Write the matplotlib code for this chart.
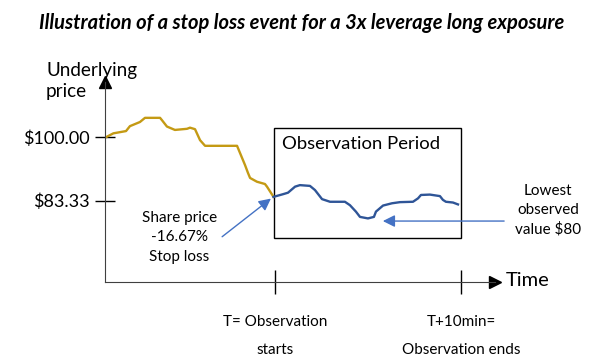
import matplotlib.pyplot as plt
from matplotlib.patches import Rectangle

plt.rcParams['font.family'] = ['Lato', 'DejaVu Sans']

# price path before the stop (minutes relative to T, price in $)
pre_t = [-9.14, -8.69, -8.01, -7.80, -7.26, -6.99, -6.18, -6.08, -5.81, -5.38,
         -4.73, -4.57, -4.30, -4.03, -3.76, -2.04, -1.88, -1.61, -1.45, -1.34,
         -0.97, -0.54, -0.43, -0.08]
pre_p = [99.95, 101.1, 101.7, 103.0, 104.1, 105.2, 105.2, 104.6, 102.9, 102.0,
         102.3, 102.6, 102.2, 99.3, 97.8, 97.8, 95.9, 92.7, 90.6, 89.3,
         88.3, 87.7, 87.0, 84.3]

# price path during the observation window
obs_t = [-0.08, 0.43, 0.70, 1.08, 1.34, 1.88, 2.15, 2.53, 2.96, 3.76,
         4.03, 4.35, 4.57, 5.00, 5.32, 5.43, 5.81, 6.29, 6.72, 7.42,
         7.69, 7.85, 8.33, 8.87, 9.03, 9.19, 9.57, 9.84]
obs_p = [84.3, 85.0, 85.4, 87.0, 87.4, 87.2, 86.1, 83.7, 83.0, 83.0,
         82.1, 80.4, 79.0, 78.6, 79.0, 80.4, 82.0, 82.6, 82.9, 83.0,
         83.9, 84.8, 84.9, 84.5, 83.5, 83.0, 82.8, 82.3]

ytick_vals = [100.0, 83.33]
ytick_labels = ['$100.00', '$83.33']
xtick_vals = [0, 10]
xtick_labels = ['T= Observation\nstarts', 'T+10min=\nObservation ends']

W, H = 612, 364
fig = plt.figure(figsize=(W / 100, H / 100), dpi=100)
# axes placed so the spines match the hand-drawn axes of the original
ax = fig.add_axes([105 / W, (H - 282.3) / H, 390 / W, 200 / H])
ax.set_xlim(-9.14, 11.83)
ax.set_ylim(61.7, 114.6)
ax.patch.set_alpha(0)

for s in ['top', 'right']:
    ax.spines[s].set_visible(False)
ax.spines['left'].set_color('#404040')
ax.spines['bottom'].set_color('#404040')

# arrow heads on the axes
ax.plot(1, 0, '>', color='black', ms=9, transform=ax.transAxes, clip_on=False)
ax.plot(0, 1, '^', color='black', ms=9, transform=ax.transAxes, clip_on=False)

ax.plot(pre_t, pre_p, color='#C49A14', lw=1.7, solid_joinstyle='round')
ax.plot(obs_t, obs_p, color='#2F5597', lw=1.7, solid_joinstyle='round')

ax.set_yticks(ytick_vals)
ax.set_yticklabels(ytick_labels)
ax.set_xticks(xtick_vals)
ax.set_xticklabels(xtick_labels)
ax.tick_params(axis='y', direction='inout', length=14, width=1, pad=4, labelsize=13)
ax.tick_params(axis='x', direction='inout', length=17, width=1, pad=15, labelsize=11)
for lbl in ax.get_xticklabels():
    lbl.set_linespacing(2.25)

# observation window box
ax.add_patch(Rectangle((-0.05, 73.3), 10.05, 29.1, fill=False, ec='black', lw=1,
                       clip_on=False))
ax.text(0.4, 98.3, 'Observation Period', fontsize=13.3, va='center', ha='left')

ax.annotate('', xy=(-0.1, 84.3), xytext=(-2.96, 73.3),
            arrowprops=dict(arrowstyle='-|>', color='#4472C4', lw=1,
                            mutation_scale=18),
            annotation_clip=False)
ax.text(-5.14, 73.6, 'Share price\n-16.67%\nStop loss', fontsize=11,
        ha='center', va='center', linespacing=1.5)

ax.annotate('', xy=(5.65, 77.9), xytext=(12.47, 77.9),
            arrowprops=dict(arrowstyle='-|>', color='#4472C4', lw=1,
                            mutation_scale=18),
            annotation_clip=False)
fig.text(548 / W, 1 - 210 / H, 'Lowest\nobserved\nvalue $80', fontsize=11,
         ha='center', va='center', linespacing=1.45)

fig.text(506 / W, 1 - 281 / H, 'Time', fontsize=14.5, ha='left', va='center')
fig.text(46 / W, 1 - 81 / H, 'Underlying\nprice', fontsize=13.6, ha='left',
         va='center', linespacing=1.35)

fig.text(302 / W, 1 - 23 / H,
         'Illustration of a stop loss event for a 3x leverage long exposure',
         fontsize=14.5, fontweight='bold', fontstyle='italic', ha='center',
         va='center')

fig.savefig('out.png', dpi=100)
